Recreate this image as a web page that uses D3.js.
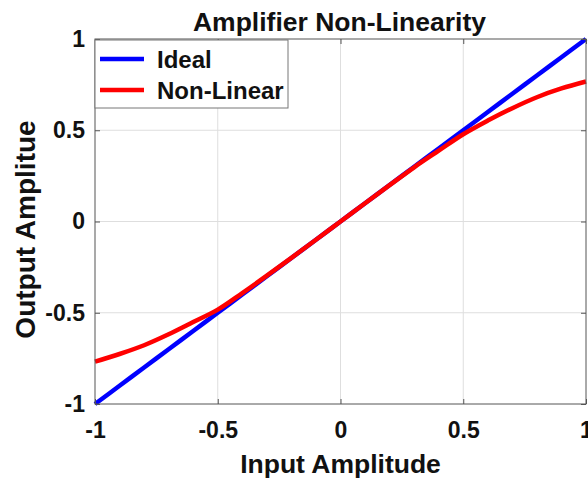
<!DOCTYPE html>
<html>
<head>
<meta charset="utf-8">
<script src="https://cdn.jsdelivr.net/npm/d3@7"></script>
<style>
  body { margin: 0; background: #fff; }
  text { font-family: "Liberation Sans", Arial, sans-serif; font-weight: bold; fill: #111; }
</style>
</head>
<body>
<div id="chart"></div>
<script>
// data
const inputX = [-1, -0.9, -0.8, -0.7, -0.6, -0.5, -0.4, -0.3, -0.2, -0.1, 0, 0.1, 0.2, 0.3, 0.4, 0.5, 0.6, 0.7, 0.8, 0.9, 1];
const idealY = [-1, -0.9, -0.8, -0.7, -0.6, -0.5, -0.4, -0.3, -0.2, -0.1, 0, 0.1, 0.2, 0.3, 0.4, 0.5, 0.6, 0.7, 0.8, 0.9, 1];
const nonLinearY = [-0.768, -0.726, -0.678, -0.618, -0.551, -0.483, -0.392, -0.297, -0.199, -0.1, 0, 0.1, 0.199, 0.297, 0.388, 0.478, 0.553, 0.621, 0.681, 0.729, 0.767];
const xTicks = [-1, -0.5, 0, 0.5, 1];
const yTicks = [-1, -0.5, 0, 0.5, 1];
const seriesNames = ["Ideal", "Non-Linear"];
const seriesColors = ["#0000ff", "#ff0000"];

const W = 588, H = 478;
const margin = {top: 39, right: 2, bottom: 74, left: 95},
    width = W - margin.left - margin.right,
    height = H - margin.top - margin.bottom;

const svg = d3.select("#chart")
    .append("svg")
    .attr("width", W)
    .attr("height", H);

const g = svg.append("g")
    .attr("transform", `translate(${margin.left}, ${margin.top})`);

const x = d3.scaleLinear().domain([-1, 1]).range([0, width]);
const y = d3.scaleLinear().domain([-1, 1]).range([height, 0]);

// plain hyphen for negatives, like the reference
const fmt = d => String(d);

// grid
g.append("g").selectAll("line")
    .data(xTicks.slice(1, -1))
    .join("line")
    .attr("x1", d => x(d)).attr("x2", d => x(d))
    .attr("y1", 0).attr("y2", height)
    .attr("stroke", "#dedede").attr("stroke-width", 1);
g.append("g").selectAll("line")
    .data(yTicks.slice(1, -1))
    .join("line")
    .attr("y1", d => y(d)).attr("y2", d => y(d))
    .attr("x1", 0).attr("x2", width)
    .attr("stroke", "#dedede").attr("stroke-width", 1);

// lines
const pts = (ys) => inputX.map((v, i) => [v, ys[i]]);
const line = d3.line()
    .x(d => x(d[0]))
    .y(d => y(d[1]))
    .curve(d3.curveCatmullRom);

[idealY, nonLinearY].forEach((ys, i) => {
    g.append("path")
        .datum(pts(ys))
        .attr("fill", "none")
        .attr("stroke", seriesColors[i])
        .attr("stroke-width", 4.5)
        .attr("d", line);
});

// axes, ticks inside, box on
const tickLen = 5;
const frame = "#555";
g.append("g")
    .attr("transform", `translate(0, ${height})`)
    .call(d3.axisBottom(x).tickValues(xTicks).tickSize(-tickLen).tickPadding(18).tickFormat(fmt))
    .call(a => a.select(".domain").remove())
    .call(a => a.selectAll("line").attr("stroke", frame))
    .call(a => a.selectAll("text").attr("font-size", 23).attr("fill", "#111").style("font-family", null));
g.append("g")
    .call(d3.axisLeft(y).tickValues(yTicks).tickSize(-tickLen).tickPadding(10).tickFormat(fmt))
    .call(a => a.select(".domain").remove())
    .call(a => a.selectAll("line").attr("stroke", frame))
    .call(a => a.selectAll("text").attr("font-size", 23).attr("fill", "#111").style("font-family", null));
g.append("g")
    .call(d3.axisTop(x).tickValues(xTicks).tickSize(-tickLen).tickFormat(""))
    .call(a => a.select(".domain").remove())
    .call(a => a.selectAll("line").attr("stroke", frame));
g.append("g")
    .attr("transform", `translate(${width}, 0)`)
    .call(d3.axisRight(y).tickValues(yTicks).tickSize(-tickLen).tickFormat(""))
    .call(a => a.select(".domain").remove())
    .call(a => a.selectAll("line").attr("stroke", frame));
g.append("rect")
    .attr("width", width).attr("height", height)
    .attr("fill", "none").attr("stroke", frame).attr("stroke-width", 1);

// title and labels
svg.append("text")
    .attr("x", margin.left + width / 2 - 1).attr("y", 31)
    .attr("text-anchor", "middle").attr("font-size", 26.5)
    .text("Amplifier Non-Linearity");
svg.append("text")
    .attr("x", margin.left + width / 2).attr("y", 473)
    .attr("text-anchor", "middle").attr("font-size", 26.5)
    .text("Input Amplitude");
svg.append("text")
    .attr("transform", `translate(35, ${margin.top + height / 2 + 8}) rotate(-90)`)
    .attr("text-anchor", "middle").attr("font-size", 28)
    .text("Output Amplitue");

// legend
const legend = g.append("g").attr("transform", "translate(0, 1)");
legend.append("rect")
    .attr("x", 0).attr("y", 0).attr("width", 193).attr("height", 68)
    .attr("fill", "#fff").attr("stroke", "#777").attr("stroke-width", 1);
seriesNames.forEach((name, i) => {
    const ly = 19 + i * 31;
    legend.append("line")
        .attr("x1", 5).attr("x2", 49).attr("y1", ly).attr("y2", ly)
        .attr("stroke", seriesColors[i]).attr("stroke-width", 4.5);
    legend.append("text")
        .attr("x", 62).attr("y", ly + 8.5)
        .attr("font-size", 24)
        .text(name);
});
</script>
</body>
</html>
